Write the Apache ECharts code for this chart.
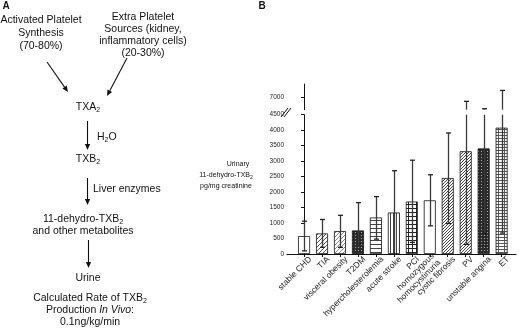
<!DOCTYPE html>
<html>
<head>
<meta charset="utf-8">
<script src="https://cdn.jsdelivr.net/npm/echarts@6/dist/echarts.min.js"></script>
<style>
  html, body { margin: 0; padding: 0; background: #fff; }
  #chart { width: 520px; height: 328px; }
</style>
</head>
<body>
<div id="chart"></div>
<script>
// data (pg/mg creatinine)
const categories = ['stable CHD', 'TIA', 'visceral obesity', 'T2DM', 'hypercholesterolemia', 'acute stroke',
    'PCI', 'homozygous\nhomocystinuria', 'cystic fibrosis', 'PV', 'unstable angina', 'ET'];
const means = [580, 665, 740, 760, 1180, 1340, 1695, 1735, 2455, 3320, 3410, 4080];
const errHigh = [1060, 1115, 1250, 1660, 1855, 2690, 3030, 2560, 3910, 6860, 6630, 7200];
const errLow = [100, 215, 215, 320, 480, 0, 375, 910, 985, 310, 675, 675];
const lowerTicks = [0, 500, 1000, 1500, 2000, 2500, 3000, 3500, 4000, 4500];
const upperTicks = [7000];

// fill style of each bar, same order as categories
const fills = ['white', 'diag', 'diagLight', 'cross', 'hlines', 'vlines', 'grid', 'white', 'diagDense', 'diagDense', 'cross', 'hgrid'];

const FONT = '"Liberation Sans", Arial, sans-serif';
const LOW_MAX = 4500, UP_MIN = 6600, UP_MAX = 7400;
const LABEL_SHIFT = 0.35; // rotated labels sit a bit right of their tick

function makeFill(kind) {
    if (kind === 'white') return '#fff';
    const c = document.createElement('canvas');
    let w = 4, h = 4;
    if (kind === 'diagDense' || kind === 'cross') { w = 3; h = 3; }
    if (kind === 'hgrid') { w = 6; h = 3; }
    if (kind === 'vlines') { w = 3; h = 3; }
    c.width = w; c.height = h;
    const ctx = c.getContext('2d');
    ctx.fillStyle = '#fff';
    ctx.fillRect(0, 0, w, h);
    const diag = (col) => {
        ctx.strokeStyle = col;
        ctx.lineWidth = 1;
        ctx.beginPath();
        for (let k = -1; k <= 1; k++) {
            ctx.moveTo(k * w - 1, h + 1);
            ctx.lineTo(k * w + w + 1, -1);
        }
        ctx.stroke();
    };
    if (kind === 'diag') diag('#555');
    if (kind === 'diagLight') diag('#888');
    if (kind === 'diagDense') diag('#444');
    if (kind === 'cross') {
        ctx.fillStyle = '#2a2a2a';
        ctx.fillRect(0, 0, w, h);
        ctx.fillStyle = '#aaa';
        ctx.fillRect(1, 1, 1, 1);
    }
    if (kind === 'hlines') { ctx.fillStyle = '#444'; ctx.fillRect(0, 0, w, 1); }
    if (kind === 'vlines') { ctx.fillStyle = '#444'; ctx.fillRect(0, 0, 1, h); }
    if (kind === 'grid') {
        ctx.fillStyle = '#222';
        ctx.fillRect(0, 0, w, 1);
        ctx.fillRect(0, 0, 1, h);
    }
    if (kind === 'hgrid') {
        ctx.fillStyle = '#555';
        ctx.fillRect(0, 0, w, 1);
        ctx.fillRect(0, 0, 1, h);
    }
    return { image: c, repeat: 'repeat' };
}

const chart = echarts.init(document.getElementById('chart'), null, { renderer: 'canvas' });

function errorBars(part) {
    return function (params, api) {
        const i = api.value(0), lo = api.value(1), hi = api.value(2);
        let bot, top, capTop, capBot;
        if (part === 'low') {
            bot = lo; top = Math.min(hi, LOW_MAX);
            capTop = hi <= LOW_MAX; capBot = true;
        } else {
            if (hi <= UP_MIN) return null;
            bot = UP_MIN; top = Math.min(hi, UP_MAX);
            capTop = true; capBot = false;
        }
        const p1 = api.coord([i, bot]), p2 = api.coord([i, top]);
        const x = Math.round(p1[0]) + 0.5;
        const style = { stroke: '#3a3a3a', lineWidth: 1.3 };
        const kids = [{ type: 'line', shape: { x1: x, y1: p1[1], x2: x, y2: p2[1] }, style: style }];
        if (capTop) kids.push({ type: 'line', shape: { x1: x - 2.5, y1: p2[1], x2: x + 2.5, y2: p2[1] }, style: { stroke: '#222', lineWidth: 1.3 } });
        if (capBot) kids.push({ type: 'line', shape: { x1: x - 2.5, y1: p1[1], x2: x + 2.5, y2: p1[1] }, style: { stroke: '#222', lineWidth: 1.3 } });
        return { type: 'group', children: kids };
    };
}

function arrow(x1, y1, x2, y2) {
    const a = Math.atan2(y2 - y1, x2 - x1), L = 6, W = 2.6;
    const bx = x2 - L * Math.cos(a), by = y2 - L * Math.sin(a);
    return [
        { type: 'line', shape: { x1: x1, y1: y1, x2: bx, y2: by }, style: { stroke: '#111', lineWidth: 1.1 } },
        { type: 'polygon', shape: { points: [[x2, y2], [bx + W * Math.sin(a), by - W * Math.cos(a)], [bx - W * Math.sin(a), by + W * Math.cos(a)]] }, style: { fill: '#111' } }
    ];
}

const subRich = {
    sub: { fontSize: 7, fontFamily: FONT, fill: '#111', verticalAlign: 'bottom', lineHeight: 14 },
    it: { fontSize: 10.5, fontFamily: FONT, fill: '#111', fontStyle: 'italic', lineHeight: 14 }
};
function txt(x, y, s, size, extra) {
    return {
        type: 'text', x: x, y: y,
        style: Object.assign({
            text: s, fontSize: size || 10.5, fontFamily: FONT, fill: '#111',
            align: 'center', verticalAlign: 'middle', lineHeight: 14, rich: subRich
        }, extra || {})
    };
}

const graphics = [
    txt(6, 6, 'A', 10, { fontWeight: 'bold' }),
    txt(262, 6, 'B', 10, { fontWeight: 'bold' }),
    txt(41, 20, 'Activated Platelet'),
    txt(41, 33, 'Synthesis'),
    txt(41, 46, '(70-80%)'),
    txt(143, 17.5, 'Extra Platelet'),
    txt(143, 29.5, 'Sources (kidney,'),
    txt(143, 41.5, 'inflammatory cells)'),
    txt(143, 53, '(20-30%)'),
    ...arrow(47, 62, 68, 92),
    ...arrow(127, 58, 107, 96),
    txt(88, 107, 'TXA{sub|2}'),
    ...arrow(87.5, 121, 87.5, 150),
    txt(97, 137, 'H{sub|2}O', 10.5, { align: 'left' }),
    txt(88, 159, 'TXB{sub|2}'),
    ...arrow(87.5, 178, 87.5, 205),
    txt(93, 189, 'Liver enzymes', 10.5, { align: 'left' }),
    txt(83, 219, '11-dehydro-TXB{sub|2}'),
    txt(83, 231, 'and other metabolites'),
    ...arrow(88.5, 240, 88.5, 268),
    txt(88, 278, 'Urine'),
    txt(90, 298, 'Calculated Rate of TXB{sub|2}'),
    txt(90, 310.5, 'Production {it|In Vivo}:'),
    txt(90, 322, '0.1ng/kg/min'),
    // y axis title of panel B
    txt(238, 164, 'Urinary', 7),
    txt(226, 175, '11-dehydro-TXB{sub|2}', 7, { rich: { sub: { fontSize: 5, fontFamily: FONT, fill: '#111', verticalAlign: 'bottom', lineHeight: 11 } }, lineHeight: 11 }),
    txt(226, 186, 'pg/mg creatinine', 7),
    // axis break marks
    { type: 'line', shape: { x1: 281, y1: 117, x2: 288, y2: 108 }, style: { stroke: '#111', lineWidth: 1 } },
    { type: 'line', shape: { x1: 284, y1: 117, x2: 291, y2: 108 }, style: { stroke: '#111', lineWidth: 1 } }
];

const xCommon = {
    type: 'value', min: -0.95, max: 11.8,
    splitLine: { show: false }
};
const gridPos = { left: 287, right: 4 };
const yLabel = { fontSize: 6.5, fontFamily: FONT, color: '#222', margin: 3, formatter: (v) => String(v) };

const option = {
    animation: false,
    backgroundColor: '#fff',
    grid: [
        Object.assign({ top: 84, height: 25.7 }, gridPos),
        Object.assign({ top: 114.7, height: 139.3 }, gridPos)
    ],
    xAxis: [
        Object.assign({ gridIndex: 0, show: false }, xCommon),
        Object.assign({
            gridIndex: 1,
            axisLine: { lineStyle: { color: '#111', width: 1 } },
            axisTick: { customValues: categories.map((c, i) => i), length: 3, lineStyle: { color: '#111' } },
            axisLabel: {
                customValues: categories.map((c, i) => i + LABEL_SHIFT),
                formatter: (v) => categories[Math.round(v - LABEL_SHIFT)],
                rotate: 45, fontSize: 8.5, fontFamily: FONT, color: '#222', margin: 4, lineHeight: 9
            }
        }, xCommon)
    ],
    yAxis: [
        {
            gridIndex: 0, type: 'value', min: UP_MIN, max: UP_MAX,
            splitLine: { show: false },
            axisLine: { show: true, lineStyle: { color: '#111' } },
            axisTick: { show: true, customValues: upperTicks, length: 3, lineStyle: { color: '#111' } },
            axisLabel: Object.assign({ customValues: upperTicks }, yLabel)
        },
        {
            gridIndex: 1, type: 'value', min: 0, max: LOW_MAX,
            splitLine: { show: false },
            axisLine: { show: true, lineStyle: { color: '#111' } },
            axisTick: { show: true, customValues: lowerTicks, length: 3, lineStyle: { color: '#111' } },
            axisLabel: Object.assign({ customValues: lowerTicks }, yLabel)
        }
    ],
    series: [
        {
            type: 'bar', xAxisIndex: 1, yAxisIndex: 1, barWidth: 12,
            data: means.map((v, i) => ({
                value: [i, v],
                itemStyle: { color: makeFill(fills[i]), borderColor: '#111', borderWidth: 0.8 }
            }))
        },
        {
            type: 'custom', xAxisIndex: 1, yAxisIndex: 1,
            renderItem: errorBars('low'),
            data: means.map((v, i) => [i, errLow[i], errHigh[i]]),
            z: 5
        },
        {
            type: 'custom', xAxisIndex: 0, yAxisIndex: 0,
            renderItem: errorBars('up'),
            data: means.map((v, i) => [i, errLow[i], errHigh[i]]),
            z: 5
        }
    ],
    graphic: graphics
};

chart.setOption(option);
</script>
</body>
</html>
